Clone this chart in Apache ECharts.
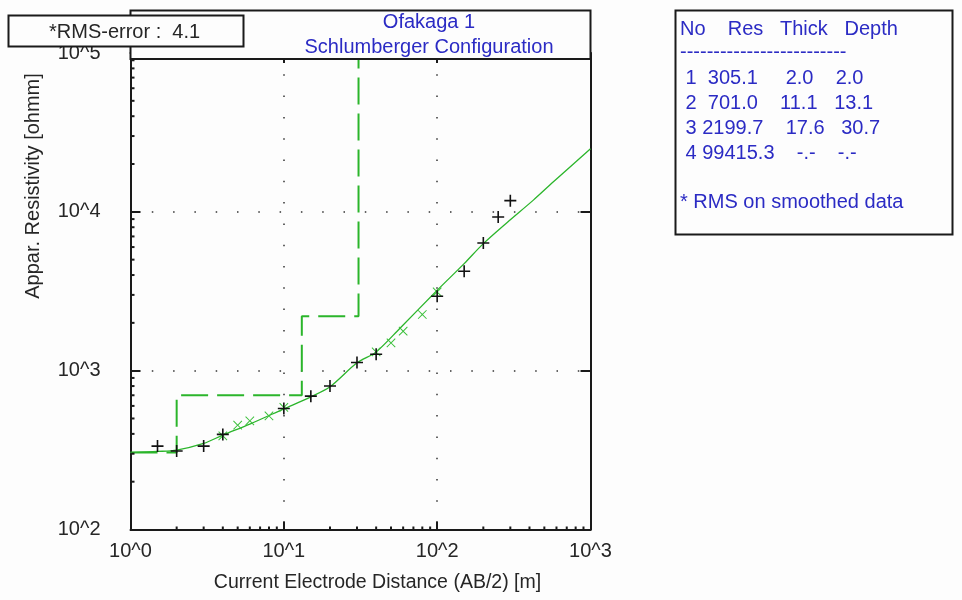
<!DOCTYPE html>
<html>
<head>
<meta charset="utf-8">
<title>Ofakaga 1</title>
<script src="https://cdn.jsdelivr.net/npm/echarts@6/dist/echarts.min.js"></script>
<style>
	html, body { margin: 0; padding: 0; background: #fdfdfd; }
	#chart { width: 962px; height: 600px; }
</style>
</head>
<body>
<div id="chart"></div>
<script>
// field data (black +)
var fieldAB = [1.5, 2, 3, 4, 10, 15, 20, 30, 40, 100, 150, 200, 250, 300];
var fieldRho = [335, 312, 335, 397, 578, 691, 801, 1126, 1270, 2942, 4226, 6364, 9275, 11757];

// smoothed data (green x)
var smoothAB = [4, 5, 6, 8, 10, 40, 50, 60, 80, 100];
var smoothRho = [389, 454, 483, 519, 587, 1313, 1496, 1772, 2257, 3131];

// model response curve
var modelAB = [1, 1.5, 2, 3, 4, 6, 10, 15, 20, 30, 40, 57, 100, 150, 200, 285, 424, 573, 1000];
var modelRho = [305, 310, 316, 348, 393, 461, 575, 684, 791, 1120, 1313, 1843, 3208, 4722, 6310, 8550, 11850, 15450, 24980];

// layered model
var layerNo = [1, 2, 3, 4];
var layerRes = [305.1, 701.0, 2199.7, 99415.3];
var layerThick = [2.0, 11.1, 17.6, null];
var layerDepth = [2.0, 13.1, 30.7, null];

var rmsError = 4.1;
var stationName = 'Ofakaga 1';
var configName = 'Schlumberger Configuration';

var blue = '#2b2bc4';
var green = '#2bb52b';
var ink = '#262626';
var font = '"Liberation Sans", Arial, sans-serif';

function pairs(xs, ys) {
	var out = [];
	for (var i = 0; i < xs.length; i++) out.push([xs[i], ys[i]]);
	return out;
}

// step line of the layered model
var stepData = [[1, layerRes[0]]];
for (var i = 0; i < layerRes.length - 1; i++) {
	stepData.push([layerDepth[i], layerRes[i]]);
	stepData.push([layerDepth[i], layerRes[i + 1]]);
}

// minor ticks 2..9 of every decade
function minorTicks(lo, hi) {
	var out = [];
	for (var e = lo; e < hi; e++) {
		for (var m = 2; m <= 9; m++) out.push(m * Math.pow(10, e));
	}
	return out;
}
var xMinor = minorTicks(0, 3).map(function (v) { return [v, 100]; });
var yMinor = minorTicks(2, 5).map(function (v) { return [1, v]; });

function expLabel(v) {
	return '10^' + Math.round(Math.log10(v));
}

function fmt(v) {
	return v == null ? '-.-' : v.toFixed(1);
}

var plusPath = 'path://M5.2,0H6.8V5.2H12V6.8H6.8V12H5.2V6.8H0V5.2H5.2Z';
var xPath = 'path://M5.5,0H6.5V5.5H12V6.5H6.5V12H5.5V6.5H0V5.5H5.5Z';

// fixed-width rows like the original listing
var tableLines = [
	' ' + layerNo[0] + '  ' + fmt(layerRes[0]) + '     ' + fmt(layerThick[0]) + '    ' + fmt(layerDepth[0]),
	' ' + layerNo[1] + '  ' + fmt(layerRes[1]) + '    ' + fmt(layerThick[1]) + '   ' + fmt(layerDepth[1]),
	' ' + layerNo[2] + ' ' + fmt(layerRes[2]) + '    ' + fmt(layerThick[2]) + '   ' + fmt(layerDepth[2]),
	' ' + layerNo[3] + ' ' + fmt(layerRes[3]) + '    ' + fmt(layerThick[3]) + '    ' + fmt(layerDepth[3])
];

var chart = echarts.init(document.getElementById('chart'));

var axisLine = { show: true, lineStyle: { color: '#1a1a1a', width: 2 } };
var dotted = { show: true, lineStyle: { color: '#333', width: 1.5, type: [1.5, 19.8] } };
var tick = function (len) {
	return { show: true, inside: true, length: len, lineStyle: { color: '#1a1a1a', width: 2 } };
};

var graphics = [
	// title box
	{ type: 'rect', z: 100, shape: { x: 130.5, y: 10.5, width: 460, height: 48.5 },
	  style: { fill: '#fdfdfd', stroke: '#1a1a1a', lineWidth: 2 } },
	{ type: 'text', z: 101, x: 429, y: 22, style: { text: stationName, fill: blue, font: '20px ' + font, align: 'center', verticalAlign: 'middle' } },
	{ type: 'text', z: 101, x: 429, y: 47, style: { text: configName, fill: blue, font: '20px ' + font, align: 'center', verticalAlign: 'middle' } },
	// rms box
	{ type: 'rect', z: 102, shape: { x: 8.5, y: 15.5, width: 235, height: 31 },
	  style: { fill: '#fdfdfd', stroke: '#1a1a1a', lineWidth: 2 } },
	{ type: 'text', z: 103, x: 49, y: 32, style: { text: '*RMS-error :  ' + rmsError.toFixed(1), fill: ink, font: '20px ' + font, verticalAlign: 'middle' } },
	// axis name y
	{ type: 'text', z: 100, x: 33, y: 186, rotation: Math.PI / 2,
	  style: { text: 'Appar. Resistivity [ohmm]', fill: ink, font: '20px ' + font, align: 'center', verticalAlign: 'middle' } },
	// layer table
	{ type: 'rect', z: 100, shape: { x: 675.5, y: 10.5, width: 277, height: 224 },
	  style: { fill: '#fdfdfd', stroke: '#1a1a1a', lineWidth: 2 } },
	{ type: 'text', z: 101, x: 680, y: 29, style: { text: 'No    Res   Thick   Depth', fill: blue, font: '20px ' + font, verticalAlign: 'middle' } },
	{ type: 'text', z: 101, x: 680, y: 52, style: { text: '-------------------------', fill: blue, font: '20px ' + font, verticalAlign: 'middle' } },
	{ type: 'text', z: 101, x: 680, y: 202, style: { text: '* RMS on smoothed data', fill: blue, font: '20px ' + font, verticalAlign: 'middle' } }
];
for (var r = 0; r < tableLines.length; r++) {
	graphics.push({ type: 'text', z: 101, x: 680, y: 78 + r * 25,
		style: { text: tableLines[r], fill: blue, font: '20px ' + font, verticalAlign: 'middle' } });
}

var option = {
	backgroundColor: '#fdfdfd',
	animation: false,
	grid: { left: 130.5, right: 371.5, top: 53, bottom: 70.5 },
	xAxis: [
		{
			type: 'log', logBase: 10, min: 1, max: 1000, position: 'bottom',
			name: 'Current Electrode Distance (AB/2) [m]', nameLocation: 'middle', nameGap: 43,
			nameTextStyle: { color: ink, fontSize: 19.5, fontFamily: font, padding: [0, 0, 0, 34] },
			axisLine: axisLine,
			axisTick: tick(8),
			axisLabel: { formatter: expLabel, color: ink, fontSize: 20, fontFamily: font, margin: 12 },
			splitLine: dotted
		},
		{
			type: 'log', logBase: 10, min: 1, max: 1000, position: 'top',
			axisLine: axisLine,
			axisTick: tick(10),
			axisLabel: { show: false },
			splitLine: { show: false }
		}
	],
	yAxis: [
		{
			type: 'log', logBase: 10, min: 100, max: 100000, position: 'left',
			axisLine: axisLine,
			axisTick: tick(10),
			axisLabel: { formatter: expLabel, color: ink, fontSize: 20, fontFamily: font, margin: 30 },
			splitLine: dotted
		},
		{
			type: 'log', logBase: 10, min: 100, max: 100000, position: 'right',
			axisLine: axisLine,
			axisTick: tick(10),
			axisLabel: { show: false },
			splitLine: { show: false }
		}
	],
	series: [
		{
			name: 'minor x', type: 'custom', silent: true, clip: false, z: 5,
			data: xMinor,
			renderItem: function (params, api) {
				var p = api.coord([api.value(0), api.value(1)]);
				return { type: 'line', shape: { x1: p[0], y1: p[1], x2: p[0], y2: p[1] - 3 },
					style: { stroke: '#1a1a1a', lineWidth: 2 } };
			}
		},
		{
			name: 'minor y', type: 'custom', silent: true, clip: false, z: 5,
			data: yMinor,
			renderItem: function (params, api) {
				var p = api.coord([api.value(0), api.value(1)]);
				return { type: 'line', shape: { x1: p[0], y1: p[1], x2: p[0] + 4, y2: p[1] },
					style: { stroke: '#1a1a1a', lineWidth: 2 } };
			}
		},
		{
			name: 'layers', type: 'line', data: stepData, showSymbol: false, z: 3,
			lineStyle: { color: green, width: 2, type: [27, 9] }
		},
		{
			name: 'model', type: 'line', data: pairs(modelAB, modelRho), showSymbol: false, smooth: 0.3, z: 4,
			lineStyle: { color: green, width: 1.3 }
		},
		{
			name: 'smoothed', type: 'scatter', data: pairs(smoothAB, smoothRho), z: 6,
			symbol: xPath, symbolSize: 12, symbolRotate: 45,
			itemStyle: { color: '#3cc03c', opacity: 1 }
		},
		{
			name: 'field', type: 'scatter', data: pairs(fieldAB, fieldRho), z: 7,
			symbol: plusPath, symbolSize: 12,
			itemStyle: { color: '#111', opacity: 1 }
		}
	],
	graphic: graphics
};

chart.setOption(option);
</script>
</body>
</html>
